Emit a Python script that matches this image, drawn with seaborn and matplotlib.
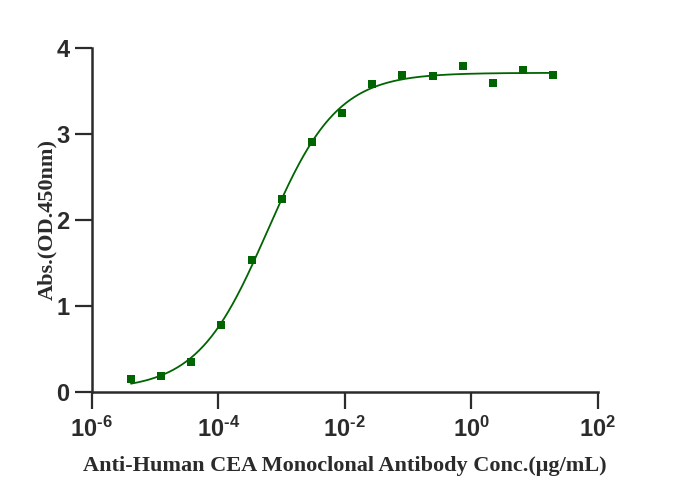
import numpy as np
import pandas as pd
import matplotlib
matplotlib.use("Agg")
import matplotlib.pyplot as plt
import seaborn as sns

# ---- data (3-fold serial dilution from 20 µg/mL) ----
conc = [4.181e-6, 1.255e-5, 3.764e-5, 1.129e-4, 3.387e-4, 1.016e-3, 3.048e-3,
        9.145e-3, 2.743e-2, 8.230e-2, 0.2469, 0.7407, 2.222, 6.667, 20.0]
absorb = [0.144, 0.179, 0.342, 0.776, 1.528, 2.237, 2.900, 3.244,
          3.574, 3.683, 3.667, 3.787, 3.586, 3.737, 3.683]
x_ticks = [1e-6, 1e-4, 1e-2, 1e0, 1e2]
x_tick_labels = [r"$10^{\text{-}6}$", r"$10^{\text{-}4}$", r"$10^{\text{-}2}$",
                 r"$10^{0}$", r"$10^{2}$"]
y_ticks = [0, 1, 2, 3, 4]
x_label = "Anti-Human CEA Monoclonal Antibody Conc.(\u03bcg/mL)"
y_label = "Abs.(OD.450nm)"
color = "#006400"
axis_color = "#2b2b2b"

df = pd.DataFrame({"conc": conc, "abs": absorb})

# ---- 4PL fit (Gauss-Newton on log10 x) ----
lx = np.log10(df["conc"].values)
yv = df["abs"].values

def f4(p, x):
    b, t, c, h = p
    return b + (t - b) / (1 + 10 ** ((c - x) * h))

p = np.array([0.1, 3.7, -3.2, 0.75])
for _ in range(200):
    r = yv - f4(p, lx)
    J = np.zeros((len(lx), 4))
    for i in range(4):
        dp = np.zeros(4); dp[i] = 1e-6
        J[:, i] = (f4(p + dp, lx) - f4(p - dp, lx)) / 2e-6
    step = np.linalg.lstsq(J.T @ J + 1e-6 * np.eye(4), J.T @ r, rcond=None)[0]
    p = p + step
    if np.max(np.abs(step)) < 1e-10:
        break

xfit = np.linspace(lx.min(), lx.max(), 400)
fit_df = pd.DataFrame({"conc": 10 ** xfit, "abs": f4(p, xfit)})

# ---- plot ----
sns.set_style("ticks")
plt.rcParams["font.family"] = ["Liberation Sans", "DejaVu Sans"]
plt.rcParams["mathtext.fontset"] = "custom"
plt.rcParams["mathtext.rm"] = "Liberation Sans:bold"
plt.rcParams["mathtext.it"] = "Liberation Sans:bold"
plt.rcParams["mathtext.bf"] = "Liberation Sans:bold"

fig = plt.figure(figsize=(6.78, 5.01), dpi=100)
ax = fig.add_axes([91.7 / 678, 1 - 391.7 / 501, (597.5 - 91.7) / 678, (391.7 - 47.7) / 501])

sns.lineplot(data=fit_df, x="conc", y="abs", ax=ax, color=color, linewidth=1.3)
sns.scatterplot(data=df, x="conc", y="abs", ax=ax, color=color, marker="s",
                s=32, edgecolor=color, linewidth=0, zorder=3, clip_on=False)

ax.set_xscale("log")
ax.set_xlim(1e-6, 1e2)
ax.set_ylim(0, 4)
ax.set_xticks(x_ticks)
ax.set_xticklabels(x_tick_labels)
ax.xaxis.set_minor_locator(matplotlib.ticker.NullLocator())
ax.set_yticks(y_ticks)
ax.set_yticklabels([str(v) for v in y_ticks], fontweight="bold")

for s in ["top", "right"]:
    ax.spines[s].set_visible(False)
for s in ["left", "bottom"]:
    ax.spines[s].set_linewidth(1.8)
    ax.spines[s].set_color(axis_color)

ax.tick_params(axis="both", which="major", length=12, width=1.6, color=axis_color,
               labelsize=17, labelcolor=axis_color)
ax.tick_params(axis="y", pad=4)
ax.tick_params(axis="x", pad=6)

serif = ["Liberation Serif", "DejaVu Serif"]
ax.set_xlabel(x_label, family=serif, fontweight="bold", fontsize=16, color=axis_color, labelpad=10)
ax.set_ylabel(y_label, family=serif, fontweight="bold", fontsize=16, color=axis_color, labelpad=-1)

fig.savefig("out.png", dpi=100)
